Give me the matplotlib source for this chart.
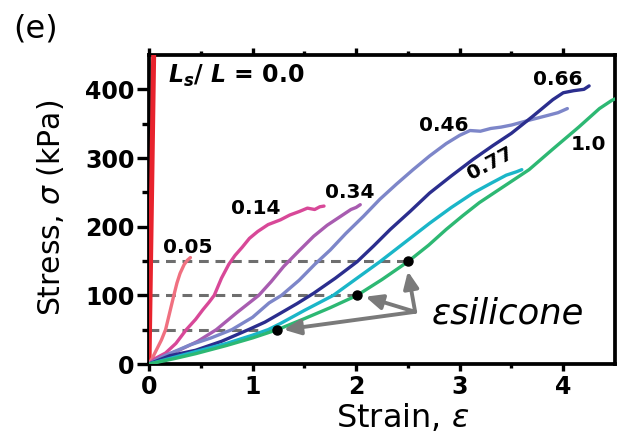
import matplotlib
matplotlib.use("Agg")
import matplotlib.pyplot as plt

plt.rcParams['font.family'] = ['DejaVu Sans']
plt.rcParams['mathtext.fontset'] = 'custom'
plt.rcParams['mathtext.rm'] = 'DejaVu Sans'
plt.rcParams['mathtext.it'] = 'DejaVu Sans:italic'
plt.rcParams['mathtext.bf'] = 'DejaVu Sans:bold'
plt.rcParams['mathtext.bfit'] = 'DejaVu Sans:bold:italic'

# ---- data (strain, stress in kPa) ----
ratios = ["0.0", "0.05", "0.14", "0.34", "0.46", "0.66", "0.77", "1.0"]
colors = ["#e8232d", "#f07080", "#d84898", "#a85cb0", "#7d86c9", "#2b2e8e", "#1ab6c8", "#2db873"]
widths = [3.6, 2.4, 2.4, 2.4, 2.4, 2.4, 2.4, 2.4]

eps_00 = [0, 0.045]
sig_00 = [0, 450]

eps_005 = [0, 0.03, 0.07, 0.12, 0.16, 0.20, 0.24, 0.27, 0.30, 0.34, 0.37, 0.40]
sig_005 = [0, 8, 20, 35, 50, 75, 100, 118, 132, 145, 151, 155]

eps_014 = [0, 0.06, 0.16, 0.26, 0.36, 0.45, 0.52, 0.58, 0.63, 0.70, 0.77, 0.83, 0.90, 0.97,
           1.05, 1.15, 1.27, 1.36, 1.45, 1.53, 1.60, 1.65, 1.69]
sig_014 = [0, 8, 16, 30, 50, 65, 79, 90, 100, 125, 145, 158, 170, 183,
           193, 203, 210, 217, 222, 227, 225, 229, 230]

eps_034 = [0, 0.10, 0.29, 0.47, 0.65, 0.85, 1.06, 1.18, 1.30, 1.45, 1.59, 1.72, 1.85, 1.95, 2.00, 2.04]
sig_034 = [0, 9, 20, 33, 50, 75, 100, 120, 142, 165, 186, 202, 215, 225, 228, 232]

eps_046 = [0, 0.15, 0.40, 0.60, 0.80, 1.00, 1.16, 1.28, 1.45, 1.60, 1.75, 1.90, 2.07, 2.23,
           2.39, 2.55, 2.71, 2.87, 3.00, 3.10, 3.20, 3.30, 3.40, 3.50, 3.67, 3.85, 3.95, 4.04]
sig_046 = [0, 12, 28, 38, 50, 68, 89, 100, 122, 145, 166, 190, 215, 240,
           262, 283, 303, 321, 333, 340, 339, 343, 345, 348, 355, 362, 366, 372]

eps_066 = [0, 0.20, 0.45, 0.70, 0.96, 1.12, 1.27, 1.43, 1.59, 1.80, 2.01, 2.17, 2.33, 2.52, 2.71,
           2.92, 3.13, 3.32, 3.50, 3.70, 3.90, 4.00, 4.10, 4.20, 4.25]
sig_066 = [0, 12, 20, 33, 50, 61, 74, 88, 103, 125, 149, 172, 196, 222, 249,
           274, 298, 318, 336, 360, 385, 395, 398, 400, 405]

eps_077 = [0, 0.25, 0.45, 0.75, 1.00, 1.15, 1.27, 1.50, 1.78, 2.00, 2.23, 2.47, 2.71, 2.92,
           3.13, 3.30, 3.45, 3.55, 3.60]
sig_077 = [0, 10, 18, 30, 42, 50, 59, 78, 100, 124, 149, 177, 205, 228,
           249, 263, 275, 280, 283]

eps_100 = [0, 0.25, 0.45, 0.75, 1.00, 1.24, 1.50, 1.75, 2.01, 2.25, 2.50, 2.70, 2.87, 3.03, 3.19,
           3.43, 3.67, 3.90, 4.15, 4.35, 4.47, 4.50]
sig_100 = [0, 8, 15, 27, 38, 50, 66, 82, 100, 123, 149, 173, 196, 216, 235,
           259, 283, 313, 345, 372, 384, 386]

curves_eps = [eps_00, eps_005, eps_014, eps_034, eps_046, eps_066, eps_077, eps_100]
curves_sig = [sig_00, sig_005, sig_014, sig_034, sig_046, sig_066, sig_077, sig_100]

# silicone strain markers
mark_eps = [1.24, 2.01, 2.50]
mark_sig = [50, 100, 150]
arrow_tail = (2.57, 76)
arrow_heads_eps = [1.30, 2.09, 2.50]
arrow_heads_sig = [50, 98, 135]

# label positions (strain, stress)
label_text = ["0.05", "0.14", "0.34", "0.46", "0.66", "0.77", "1.0"]
label_eps = [0.37, 1.03, 1.94, 2.85, 3.95, 3.30, 4.24]
label_sig = [162, 218, 242, 339, 407, 292, 312]
label_rot = [0, 0, 0, 0, 0, 28, 0]

xticks = [0, 1, 2, 3, 4]
yticks = [0, 100, 200, 300, 400]

fig = plt.figure(figsize=(6.18, 4.34), dpi=100)
ax = fig.add_axes([149/618, 1-364/434, (615-149)/618, (364-55)/434])

# dashed guides
for e, s in zip(mark_eps, mark_sig):
    ax.plot([0, e], [s, s], ls=(0, (3.2, 2.2)), color="#6e6e6e", lw=2.2, zorder=2)

for e, s, c, w in zip(curves_eps, curves_sig, colors, widths):
    ax.plot(e, s, color=c, lw=w, solid_capstyle='round', solid_joinstyle='round', zorder=3)

ax.plot(mark_eps, mark_sig, 'o', color='black', ms=6.5, zorder=5)

for he, hs in zip(arrow_heads_eps, arrow_heads_sig):
    ax.annotate("", xy=(he, hs), xytext=arrow_tail,
                arrowprops=dict(arrowstyle="-|>,head_length=1.0,head_width=0.45",
                                color="#7a7a7a", lw=2.8, shrinkA=0, shrinkB=0),
                zorder=4)

for t, e, s, r in zip(label_text, label_eps, label_sig, label_rot):
    if r:
        ax.text(e, s, t, fontsize=14.5, fontweight='bold', ha='center', va='center', rotation=r)
    else:
        ax.text(e, s, t, fontsize=14.5, fontweight='bold', ha='center', va='baseline')

ax.text(0.18, 410, r"$\mathbfit{L}_{\mathbfit{s}}$/ $\mathbfit{L}$ = 0.0", fontsize=17,
        fontweight='bold', ha='left', va='baseline')
ax.text(2.73, 59, "εsilicone", fontsize=25.5, fontstyle='italic', ha='left', va='baseline')

ax.set_xlim(0, 4.5)
ax.set_ylim(0, 450)
ax.set_xticks(xticks)
ax.set_yticks(yticks)
ax.set_xticks([0.5, 1.5, 2.5, 3.5], minor=True)
ax.set_yticks([50, 150, 250, 350], minor=True)
ax.tick_params(which='both', direction='out', width=2.4, top=True, right=False,
               labelsize=17)
ax.tick_params(axis='x', which='major', length=5, pad=3)
ax.tick_params(axis='x', which='minor', length=3)
ax.tick_params(axis='y', which='major', length=8.5, pad=2)
ax.tick_params(axis='y', which='minor', length=5)
for lab in ax.get_xticklabels() + ax.get_yticklabels():
    lab.set_fontweight('bold')
for sp in ax.spines.values():
    sp.set_linewidth(2.7)

fig.text(403/618, 1-427/434, r"Strain, $\varepsilon$", fontsize=23, ha='center', va='baseline')
fig.text(51/618, 1-208/434, r"Stress, $\sigma$ (kPa)", fontsize=21.5, ha='center', va='center',
         rotation=90)
fig.text(13/618, 1-13/434, "(e)", fontsize=23, ha='left', va='top')

fig.savefig("out.png", dpi=100)
